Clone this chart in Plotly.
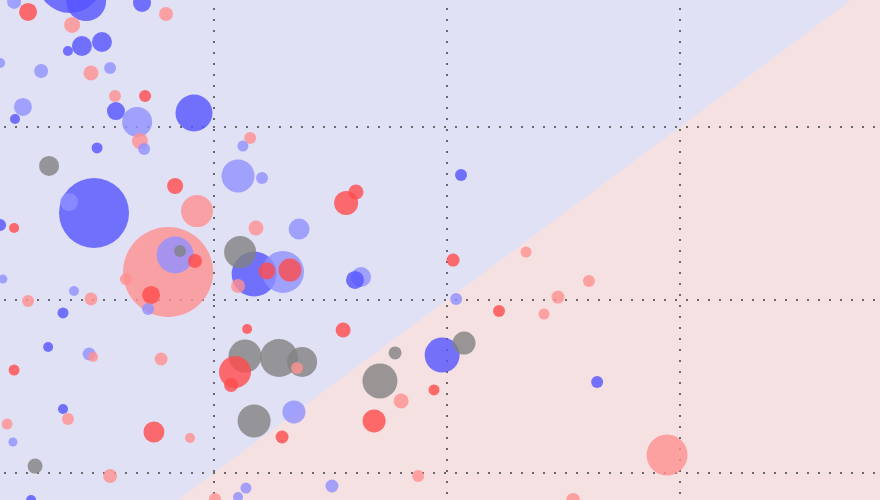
import plotly.graph_objects as go

# category codes: DB strong blue, LB lean blue, DR strong red, LR lean red, G other
x = [1.42, 2.02, 4.51, 3.82, 6.91, 7.94, 3.91, 4.33, 5.19, 3.73,
     0.82, 2.58, 4.72, 5.54, 5.75, 7.04, 1.80, 1.46, 5.79, 6.70,
     9.14, 6.82, 7.00, 4.98, 11.55, 11.24, 2.92, 11.03, 12.06, 0.82,
     1.42, 4.85, 3.78, 8.33, 9.27, 8.03, 8.33, 8.54, 9.18, 6.22,
     7.30, 7.17, 0.94, 3.99, 2.02, 4.72, 3.52, 11.80, 13.65, 11.12,
     11.72, 12.96, 12.27, 13.26, 11.03, 11.42, 20.60, 15.67, 16.09, 16.05,
     16.31, 20.26, 20.39, 23.39, 26.09, 24.76, 22.23, 24.16, 15.54, 19.79,
     20.73, 17.77, 17.12, 18.03, 19.44, 16.87, 13.43, 12.92, 13.78, 13.56,
     18.76, 15.06, 26.44, 25.41, 2.88, 4.64, 4.81, 1.42, 7.73, 3.52,
     3.73, 1.12, 1.37, 7.42, 8.97, 2.32, 5.54, 2.15, 11.37, 11.03,
     10.04, 10.90, 11.33, 12.79, 10.73, 11.72, 29.44]
y = [37.23, 36.65, 37.28, 38.50, 37.17, 36.53, 35.90, 34.68, 34.91, 34.39,
     33.70, 33.24, 33.12, 33.41, 31.79, 31.79, 31.16, 30.46, 30.92, 30.29,
     30.81, 29.19, 28.73, 28.79, 29.36, 28.90, 27.75, 27.17, 27.05, 24.34,
     24.16, 25.03, 25.66, 26.59, 25.14, 21.62, 22.60, 22.83, 22.25, 21.21,
     20.29, 19.48, 21.21, 20.52, 19.94, 20.06, 19.25, 24.16, 24.10, 22.77,
     21.50, 21.62, 21.68, 21.73, 20.81, 18.32, 27.23, 25.61, 26.24, 21.16,
     21.33, 22.31, 20.06, 22.77, 21.10, 20.17, 19.36, 19.19, 18.27, 16.82,
     17.51, 16.94, 15.32, 14.16, 14.80, 13.01, 13.53, 12.08, 16.42, 16.07,
     9.83, 9.25, 15.26, 8.44, 17.28, 16.88, 16.71, 15.95, 16.59, 13.70,
     13.12, 12.83, 11.79, 12.37, 12.02, 10.40, 9.83, 8.44, 9.13, 8.61,
     8.50, 15.84, 16.76, 16.65, 15.09, 13.01, 11.04]
pop = [196, 324, 1600, 4356, 324, 196, 256, 400, 400, 100,
       100, 196, 225, 144, 144, 144, 324, 100, 324, 900,
       1369, 256, 144, 121, 144, 121, 400, 1089, 144, 144,
       100, 4900, 324, 256, 1024, 8100, 1369, 144, 196, 144,
       324, 144, 81, 100, 144, 169, 121, 225, 441, 1024,
       2025, 1764, 289, 529, 196, 100, 144, 576, 225, 324,
       400, 169, 144, 121, 144, 169, 144, 121, 225, 1225,
       529, 169, 1225, 225, 121, 529, 529, 169, 900, 144,
       144, 169, 144, 196, 100, 169, 100, 121, 169, 100,
       144, 121, 81, 441, 100, 225, 196, 100, 121, 100,
       144, 1024, 1089, 1444, 196, 1089, 1681]
party = ["LB", "DR", "DB", "DB", "DB", "LR", "LR", "DB", "DB", "DB",
         "LB", "LB", "LR", "LB", "LR", "DR", "LB", "DB", "DB", "LB",
         "DB", "LR", "LB", "DB", "LR", "LB", "G", "LB", "LB", "DB",
         "DR", "DB", "LB", "DR", "LR", "LR", "LB", "G", "DR", "LR",
         "DR", "LB", "LB", "LB", "LR", "LR", "DB", "LR", "LB", "G",
         "DB", "LB", "DR", "DR", "LR", "DR", "DB", "DR", "DR", "DB",
         "LB", "DR", "LB", "LR", "LR", "LR", "DR", "LR", "DR", "DB",
         "G", "G", "G", "LR", "DR", "DR", "LB", "DR", "G", "LR",
         "LR", "LB", "DB", "LR", "DB", "LB", "LR", "DR", "LR", "DB",
         "LR", "LR", "LB", "DR", "LR", "G", "LR", "DB", "LB", "LB",
         "LR", "DR", "G", "G", "DR", "G", "LR"]

grid_vals = [10, 20, 30]
x_range = [0.815, 38.58]
y_range = [8.44, 37.34]

palette = {"DB": "rgb(84,84,255)", "LB": "rgb(144,144,255)",
           "DR": "rgb(255,75,75)", "LR": "rgb(255,144,144)",
           "G": "rgb(130,130,130)"}

order = sorted(range(len(x)), key=lambda i: -pop[i])
xs = [x[i] for i in order]
ys = [y[i] for i in order]
ps = [pop[i] for i in order]
cs = [palette[party[i]] for i in order]

fig = go.Figure()
fig.add_trace(go.Scatter(
    x=xs, y=ys, mode="markers",
    marker=dict(size=ps, sizemode="area", sizeref=2, color=cs,
                opacity=0.8, line=dict(width=0)),
    hoverinfo="skip", showlegend=False))

lo, hi = y_range
fig.add_shape(type="path",
              path=f"M {lo},{lo} L {hi},{hi} L {x_range[1]},{hi} L {x_range[1]},{lo} Z",
              xref="x", yref="y", fillcolor="#f6e1e2", line=dict(width=0),
              layer="below")

fig.update_layout(
    width=880, height=500, margin=dict(l=0, r=0, t=0, b=0),
    plot_bgcolor="#e1e1f5", paper_bgcolor="#e1e1f5",
    xaxis=dict(range=x_range, tickvals=grid_vals, showticklabels=False,
               showgrid=True, gridcolor="#686868", gridwidth=2,
               griddash="0px,8px,2px,1px", zeroline=False, showline=False,
               ticks=""),
    yaxis=dict(range=y_range, tickvals=grid_vals, showticklabels=False,
               showgrid=True, gridcolor="#686868", gridwidth=2,
               griddash="0px,3.7px,2px,5.3px", zeroline=False, showline=False,
               ticks=""),
)

fig.write_html("out.html", config={"displayModeBar": False, "staticPlot": True},
               post_script="document.body.style.margin='0px';document.body.style.overflow='hidden';")
